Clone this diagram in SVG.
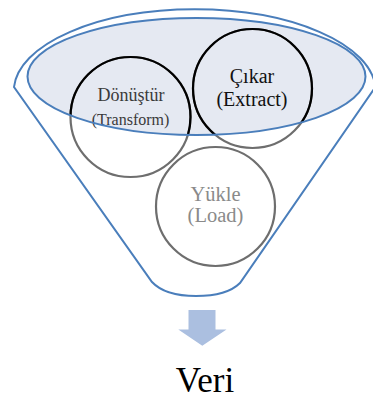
<svg xmlns="http://www.w3.org/2000/svg" width="373" height="401" viewBox="0 0 373 401">
<style>
.blue{fill:none;stroke:#4a7ebb;stroke-width:2}
.ring{fill:none;stroke:#6e6e6e;stroke-width:2.2}
.ringin{fill:none;stroke:#000;stroke-width:2.2}
.t{text-anchor:middle;font-family:'Liberation Serif','Times New Roman','DejaVu Serif',serif}
</style>
<defs>
<clipPath id="inEll"><ellipse cx="196.5" cy="76.5" rx="169" ry="58.5"/></clipPath>
</defs>
<rect width="373" height="401" fill="#fff"/>
<g id="funnel">
<path class="blue" d="M14,87 A181,82 0 0 1 375.5,87 L240,283 Q227,296 196,296 Q165,296 152,282 Z"/>
</g>
<g id="funnel-top">
<ellipse cx="196.5" cy="76.5" rx="169" ry="58.5" fill="#e5e9f2"/>
</g>
<g id="node-transform">
<circle class="ring" cx="130.5" cy="117" r="60"/>
<circle class="ringin" cx="130.5" cy="117" r="60" clip-path="url(#inEll)"/>
<text class="t" x="131" y="100.5" font-size="18" fill="#3a3a3a">Dönüştür</text>
<text class="t" x="130.5" y="124.5" font-size="16" fill="#3a3a3a">(Transform)</text>
</g>
<g id="node-extract">
<circle class="ring" cx="252.5" cy="88.5" r="59.5"/>
<circle class="ringin" cx="252.5" cy="88.5" r="59.5" clip-path="url(#inEll)"/>
<text class="t" x="252" y="83" font-size="20" fill="#111">Çıkar</text>
<text class="t" x="252" y="105.5" font-size="20" fill="#111">(Extract)</text>
</g>
<g id="node-load">
<circle class="ring" cx="215.5" cy="206.5" r="59.5"/>
<text class="t" x="215.5" y="200.5" font-size="20.5" fill="#8a8a8a">Yükle</text>
<text class="t" x="215.5" y="221.5" font-size="20.5" fill="#8a8a8a">(Load)</text>
</g>
<g id="funnel-rim">
<ellipse class="blue" cx="196.5" cy="76.5" rx="169" ry="58.5"/>
</g>
<g id="connectors">
<path d="M188.5,310 H215.5 V329.5 H226.5 L202.3,345.7 L178.3,329.5 H188.5 Z" fill="#abbfe0"/>
</g>
<g id="node-veri">
<text class="t" x="205" y="391.5" font-size="35" fill="#000">Veri</text>
</g>
</svg>
